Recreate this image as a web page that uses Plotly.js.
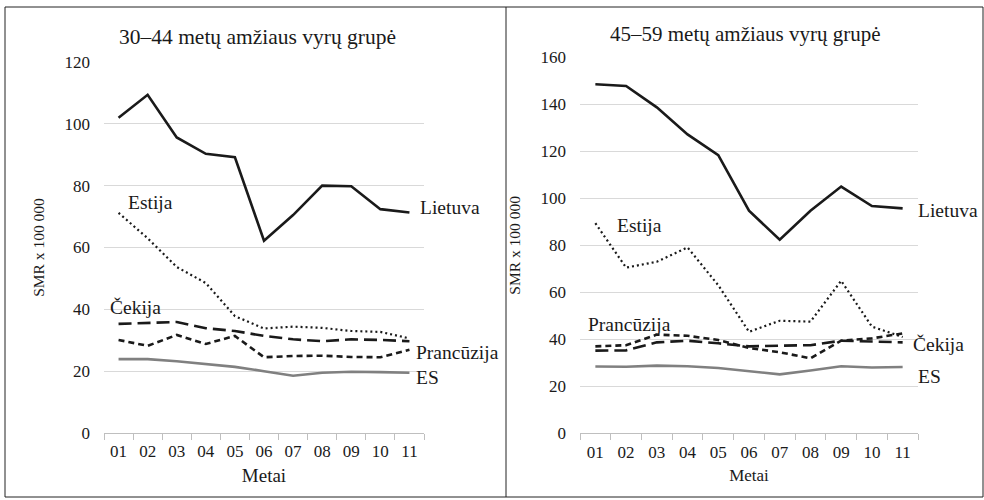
<!DOCTYPE html>
<html>
<head>
<meta charset="utf-8">
<script src="https://cdn.plot.ly/plotly-3.0.1.min.js"></script>
<style>html,body{margin:0;padding:0;background:#fff;}#chart{width:984px;height:500px;}</style>
</head>
<body>
<div id="chart"></div>
<script>
// ---- data ----
const years = ['01','02','03','04','05','06','07','08','09','10','11'];

// 30–44 metų amžiaus vyrų grupė
const lietuva3044    = [102, 109.4, 95.6, 90.3, 89.2, 62.2, 70.5, 80, 79.8, 72.4, 71.3];
const estija3044     = [71.2, 63, 53.7, 48.5, 37.8, 33.8, 34.4, 34, 33, 32.7, 30.6];
const cekija3044     = [35.3, 35.7, 35.9, 33.9, 33, 31.4, 30.3, 29.7, 30.3, 30.1, 29.7];
const prancuzija3044 = [30.1, 28.2, 31.7, 28.8, 31.4, 24.5, 24.9, 25, 24.6, 24.5, 26.9];
const es3044         = [23.9, 23.9, 23.2, 22.3, 21.4, 20, 18.5, 19.5, 19.8, 19.7, 19.5];

// 45–59 metų amžiaus vyrų grupė
const lietuva4559    = [148.5, 147.8, 138.7, 127.2, 118.4, 94.7, 82.4, 94.7, 105, 96.7, 95.7];
const estija4559     = [89.4, 70.5, 73, 79.1, 63, 43.2, 47.9, 47.5, 64.9, 45.4, 41];
const cekija4559     = [35.2, 35.3, 38.7, 39.4, 38.3, 37, 37.3, 37.5, 39.4, 39, 38.7];
const prancuzija4559 = [37, 37.5, 42, 41.5, 39.7, 36.3, 34.5, 31.9, 39.4, 40.4, 42.5];
const es4559         = [28.4, 28.3, 28.8, 28.5, 27.8, 26.5, 25.1, 26.7, 28.5, 28, 28.2];

const panelTitles = ['30–44 metų amžiaus vyrų grupė', '45–59 metų amžiaus vyrų grupė'];
const seriesNames = ['Lietuva', 'Estija', 'Čekija', 'Prancūzija', 'ES'];
const yTitle = 'SMR x 100 000';
const xTitle = 'Metai';

// ---- styles ----
const FONT = 'Liberation Serif';
const TXT = '#1a1a1a';
const styles = {
  'Lietuva':    {color: '#1a1a1a', width: 2.6, dash: 'solid'},
  'Estija':     {color: '#1a1a1a', width: 2.2, dash: '2px,3px'},
  'Čekija':     {color: '#1a1a1a', width: 2.6, dash: '13px,6px'},
  'Prancūzija': {color: '#1a1a1a', width: 2.6, dash: '6px,4px'},
  'ES':         {color: '#808080', width: 2.6, dash: 'solid'}
};

const W = 984, H = 500;
const px = v => v / W;
const py = v => 1 - v / H;

function mk(name, y, xa, ya) {
  return {x: years, y: y, type: 'scatter', mode: 'lines', name: name,
    xaxis: xa, yaxis: ya, line: styles[name], showlegend: false, hoverinfo: 'x+y+name'};
}

const data = [
  mk('Lietuva', lietuva3044, 'x', 'y'),
  mk('Estija', estija3044, 'x', 'y'),
  mk('Čekija', cekija3044, 'x', 'y'),
  mk('Prancūzija', prancuzija3044, 'x', 'y'),
  mk('ES', es3044, 'x', 'y'),
  mk('Lietuva', lietuva4559, 'x2', 'y2'),
  mk('Estija', estija4559, 'x2', 'y2'),
  mk('Čekija', cekija4559, 'x2', 'y2'),
  mk('Prancūzija', prancuzija4559, 'x2', 'y2'),
  mk('ES', es4559, 'x2', 'y2')
];

function xaxis(domain, anchor, size) {
  return {domain: domain, anchor: anchor, type: 'category', range: [-0.5, 10.5],
    showgrid: false, zeroline: false, showline: true, linecolor: '#bfbfbf', linewidth: 1,
    ticks: 'outside', tickson: 'boundaries', ticklen: 6, tickcolor: '#bfbfbf',
    tickfont: {family: FONT, size: 17, color: TXT}, ticklabelstandoff: 3,
    title: {text: xTitle, font: {family: FONT, size: size, color: TXT}, standoff: 8}};
}
function yaxis(domain, anchor, max) {
  return {domain: domain, anchor: anchor, range: [0, max], dtick: 20,
    showgrid: true, gridcolor: '#d9d9d9', gridwidth: 1, zeroline: false, showline: false,
    ticks: '', tickfont: {family: FONT, size: 17, color: TXT}, ticklabelstandoff: 13,
    title: {text: yTitle, font: {family: FONT, size: 15.5, color: TXT}, standoff: 16}};
}

function lab(text, xref, yref, x, y) {
  return {text: text, xref: xref, yref: yref, x: x, y: y, xanchor: 'left', yanchor: 'middle',
    showarrow: false, font: {family: FONT, size: 19.5, color: TXT}};
}

const layout = {
  width: W, height: H,
  margin: {l: 0, r: 0, t: 0, b: 0},
  paper_bgcolor: '#fff', plot_bgcolor: 'rgba(0,0,0,0)',
  showlegend: false,
  xaxis: xaxis([px(104), px(424)], 'y', 19),
  yaxis: yaxis([py(433), py(62)], 'x', 120),
  xaxis2: xaxis([px(580), px(918)], 'y2', 17),
  yaxis2: yaxis([py(433.3), py(57.3)], 'x2', 160),
  annotations: [
    {text: panelTitles[0], xref: 'paper', yref: 'paper', x: px(257), y: py(37), xanchor: 'center', yanchor: 'middle',
     showarrow: false, font: {family: FONT, size: 21.5, color: TXT}},
    {text: panelTitles[1], xref: 'paper', yref: 'paper', x: px(745), y: py(34), xanchor: 'center', yanchor: 'middle',
     showarrow: false, font: {family: FONT, size: 21, color: TXT}},
    lab(seriesNames[0], 'x', 'y', 10.3, 73.1),
    lab(seriesNames[1], 'x', 'y', 0.27, 74.4),
    lab(seriesNames[2], 'x', 'y', -0.35, 40.5),
    lab(seriesNames[3], 'x', 'y', 10.16, 25.9),
    lab(seriesNames[4], 'x', 'y', 10.16, 18.1),
    lab(seriesNames[0], 'x2', 'y2', 10.42, 95),
    lab(seriesNames[1], 'x2', 'y2', 0.65, 88.6),
    lab(seriesNames[3], 'x2', 'y2', -0.31, 46.1),
    lab(seriesNames[2], 'x2', 'y2', 10.28, 37.6),
    lab(seriesNames[4], 'x2', 'y2', 10.45, 24)
  ],
  shapes: [
    {type: 'rect', xref: 'paper', yref: 'paper', x0: px(5), x1: px(983), y0: py(497), y1: py(7),
     line: {color: '#222', width: 1}, fillcolor: 'rgba(0,0,0,0)'},
    {type: 'line', xref: 'paper', yref: 'paper', x0: px(506), x1: px(506), y0: py(497), y1: py(7),
     line: {color: '#222', width: 1}}
  ]
};

Plotly.newPlot('chart', data, layout, {displayModeBar: false, staticPlot: true});
</script>
</body>
</html>
